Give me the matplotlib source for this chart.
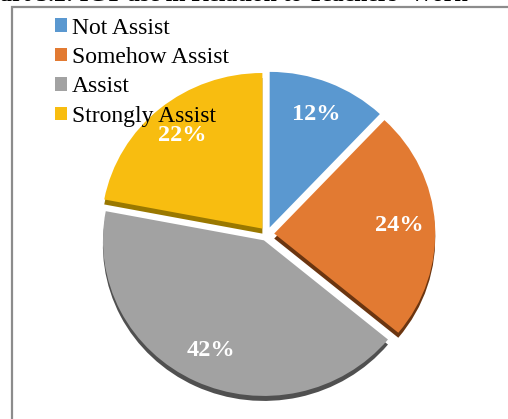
import matplotlib
matplotlib.use("Agg")
import matplotlib.pyplot as plt
from matplotlib.patches import Rectangle

categories = ["Not Assist", "Somehow Assist", "Assist", "Strongly Assist"]
values = [12, 24, 42, 22]
title_text = "Chart 3.2: ICT use in Relation to Teachers' Work"

colors = ["#5A98D0", "#E27A32", "#A2A2A2", "#F8BD10"]
depth_colors = ["none", "#6B3510", "#505050", "#9A7800"]

W, H = 508, 419
fig = plt.figure(figsize=(W / 100, H / 100), dpi=100)
ax = fig.add_axes([0, 0, 1, 1])

# pixel geometry of the pie
cx, cy = 267, 185
rx, ry = 161, 155.6
explode = [0.045] * len(values)
depth = 5 / ry

ax.pie(values, colors=depth_colors, startangle=90, counterclock=False,
       explode=explode, center=(0, -depth), wedgeprops=dict(linewidth=0))
wedges, texts, autotexts = ax.pie(
    values, colors=colors, startangle=90, counterclock=False,
    explode=explode, autopct="%.0f%%", pctdistance=0.78,
    wedgeprops=dict(linewidth=0),
    textprops=dict(color="white", fontweight="bold",
                   family="Liberation Serif", fontsize=17.5))

ax.set_aspect("auto")
ax.set_xlim(-cx / rx, (W - cx) / rx)
ax.set_ylim(-cy / ry, (H - cy) / ry)
ax.axis("off")

leg = ax.legend(wedges, categories, loc="upper left",
                bbox_to_anchor=(55 / W, 1 - 17.5 / H), bbox_transform=fig.transFigure,
                frameon=False, borderpad=0, borderaxespad=0,
                handlelength=0.5, handleheight=0.5, handletextpad=0.22,
                labelspacing=0.36,
                prop=dict(family="Liberation Serif", size=17))

# chart frame (partially outside the image)
fig.patches.append(Rectangle((12 / W, -0.1), 1.2, (H - 7) / H + 0.1,
                             transform=fig.transFigure, fill=False,
                             edgecolor="#8c8c8c", linewidth=1.6, zorder=0))

# clipped caption at the very top
fig.text(-30 / W, (H - 1) / H, title_text, family="Liberation Serif",
         fontweight="bold", fontsize=17, va="baseline", ha="left", color="black")

fig.savefig("out.png", dpi=100)
